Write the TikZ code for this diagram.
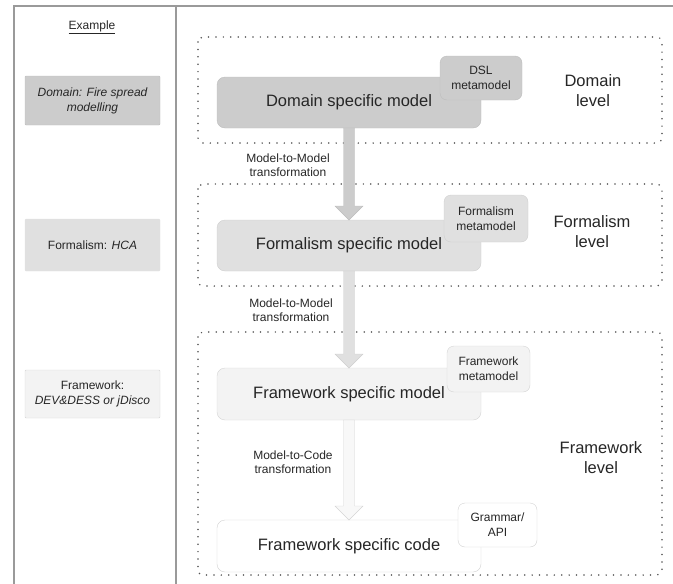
\documentclass[tikz,border=0pt]{standalone}
\usepackage{fontspec}
\setmainfont{Liberation Sans}
\usetikzlibrary{calc}
\definecolor{txt}{HTML}{262626}
\definecolor{frameline}{HTML}{9A9A9A}
\definecolor{dotc}{HTML}{555555}
\definecolor{cdom}{HTML}{CCCCCC}
\definecolor{cdomb}{HTML}{BDBDBD}
\definecolor{cfor}{HTML}{E0E0E0}
\definecolor{cforb}{HTML}{CFCFCF}
\definecolor{cfw}{HTML}{F3F3F3}
\definecolor{cfwb}{HTML}{D4D4D4}
\definecolor{ccode}{HTML}{FFFFFF}
\definecolor{ccodeb}{HTML}{D2D2D2}
\newcommand\blockarrow[3]{%
  \path[#1] ($(#2.south)+(-5.5,0)$) -- ($(#3.north)+(-5.5,-14)$) -- ($(#3.north)+(-14,-14)$)
    -- (#3.north) -- ($(#3.north)+(14,-14)$) -- ($(#3.north)+(5.5,-14)$) -- ($(#2.south)+(5.5,0)$) -- cycle;}
\begin{document}
\begin{tikzpicture}[x=1pt,y=-1pt,
  every node/.style={text=txt, outer sep=0pt, inner sep=2pt, align=center},
  mainbox/.style={rounded corners=8pt, minimum width=264pt, font=\fontsize{16.5}{20}\selectfont},
  metabox/.style={rounded corners=7pt, font=\fontsize{12}{15}\selectfont},
  exbox/.style={rounded corners=1pt, minimum width=135pt, font=\fontsize{12}{15}\selectfont},
  lvl/.style={font=\fontsize{16.5}{20}\selectfont},
  trans/.style={font=\fontsize{12}{14.5}\selectfont},
  levelbox/.style={draw=dotc, line width=1.7pt, dash pattern=on 0pt off 7.4pt, line cap=round, rounded corners=5pt}
]
\useasboundingbox (0,0) rectangle (673,584);
% outer frame
\draw[frameline, line width=1.3pt] (14,584) -- (14,6) -- (673,6);
\draw[frameline, line width=1.3pt] (176,6) -- (176,584);

% left column
\node[font=\fontsize{12}{15}\selectfont] (ex) at (92,27) {\underline{Example}};
\node[exbox, fill=cdom, draw=cdomb, minimum height=49pt] (exd) at (92.5,100.5) {\itshape Domain: Fire spread\\\itshape modelling};
\node[exbox, fill=cfor, draw=cforb!60, minimum height=52pt] (exf) at (92.5,245) {Formalism: \itshape HCA};
\node[exbox, fill=cfw, draw=cfwb, minimum height=48pt] (exw) at (92.5,394) {Framework:\\\itshape DEV\&DESS or jDisco};

% level boxes
\draw[levelbox] (198,37) rectangle (662,143);
\draw[levelbox] (198,184) rectangle (662,286);
\draw[levelbox] (198,332) rectangle (662,575);

% main boxes
\node[mainbox, fill=cdom, draw=cdomb, minimum height=51pt] (dsm) at (349,102.5) {Domain specific model};
\node[mainbox, fill=cfor, draw=cforb, minimum height=51pt] (fsm) at (349,245.5) {Formalism specific model};
\node[mainbox, fill=cfw, draw=cfwb, minimum height=52pt] (fwm) at (349,394) {Framework specific model};
\node[mainbox, fill=ccode, draw=ccodeb, minimum height=52pt] (fwc) at (349,546) {Framework specific code};

% arrows
\blockarrow{fill=cdom, draw=cdomb}{dsm}{fsm}
\blockarrow{fill=cfor, draw=cforb}{fsm}{fwm}
\blockarrow{fill=cfw!60!white, draw=cfwb}{fwm}{fwc}

% metamodel boxes
\node[metabox, fill=cdom, draw=cdomb, minimum width=82pt, minimum height=44pt] (dslm) at (481,78) {DSL\\metamodel};
\node[metabox, fill=cfor, draw=cforb, minimum width=84pt, minimum height=47pt] (form) at (486,218.5) {Formalism\\metamodel};
\node[metabox, fill=cfw, draw=cfwb, minimum width=83pt, minimum height=46pt] (fwmm) at (488.5,369) {Framework\\metamodel};
\node[metabox, fill=ccode, draw=ccodeb, minimum width=79pt, minimum height=44pt] (gram) at (497.5,525) {Grammar/\\API};

% level labels
\node[lvl] (ld) at (593,91) {Domain\\level};
\node[lvl] (lf) at (592,232) {Formalism\\level};
\node[lvl] (lw) at (601,458) {Framework\\level};

% transformation labels
\node[trans] (t1) at (288,165) {Model-to-Model\\transformation};
\node[trans] (t2) at (291,310) {Model-to-Model\\transformation};
\node[trans] (t3) at (293,462) {Model-to-Code\\transformation};
\end{tikzpicture}
\end{document}
